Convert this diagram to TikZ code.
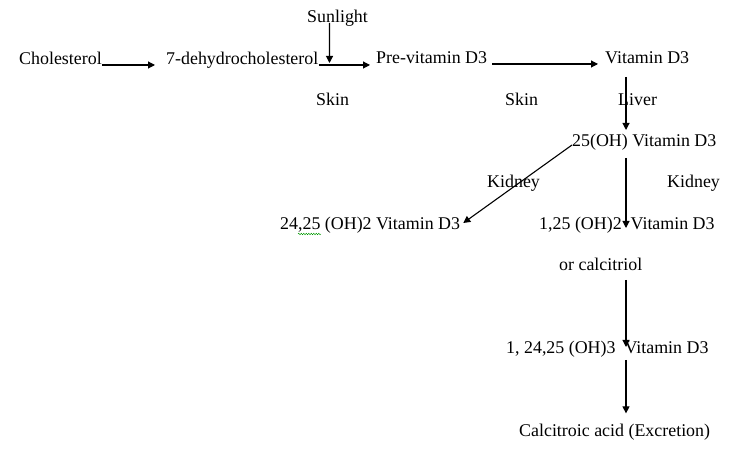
\documentclass[tikz,border=0pt]{standalone}
\usepackage{fontspec}
\setmainfont{Liberation Serif}
\usetikzlibrary{arrows.meta,decorations.pathmorphing}

\begin{document}
\begin{tikzpicture}[x=1bp,y=1bp,
        txt/.style={inner sep=0pt,anchor=base west,font=\fontsize{17.9bp}{21bp}\selectfont},
        arr/.style={line width=1.1bp,-{Triangle[length=7bp,width=7bp]}}]
        \useasboundingbox (0,0) rectangle (751,452);
        \coordinate (spine) at (626,0);
        % skin row
        \node[txt] (chol) at (19,387) {Cholesterol};
        \node[txt] (dehyd) at (166,387) {7-dehydrocholesterol};
        \node[txt] (sun) at (307,429) {Sunlight};
        \node[txt] (pre) at (376,388) {Pre-vitamin D3};
        \node[txt] (vitd) at (605,388) {Vitamin D3};
        \node[txt] (skinA) at (316,346) {Skin};
        \node[txt] (skinB) at (505,346) {Skin};
        \node[txt] (liver) at (618,346) {Liver};
        % liver and kidney
        \node[txt] (oh25) at (572,305) {25(OH) Vitamin D3};
        \node[txt] (kidA) at (487,264) {Kidney};
        \node[txt] (kidB) at (667,264) {Kidney};
        \node[txt] (oh24) at (280,222) {24,25 (OH)2 Vitamin D3};
        \node[txt] (oh125) at (539,222) {1,25 (OH)2\ \ Vitamin D3};
        \node[txt] (calci) at (559,181) {or calcitriol};
        \node[txt] (oh3) at (506,98) {1, 24,25 (OH)3\ \ Vitamin D3};
        \node[txt] (acid) at (519,15) {Calcitroic acid (Excretion)};
        % arrows
        \draw[arr] (chol.base east) -- ([xshift=-11bp]dehyd.base west);
        \draw[arr] ([xshift=-8bp]sun.base) -- ([shift={(11bp,2bp)}]dehyd.base east);
        \draw[arr] (dehyd.base east) -- ([xshift=-6bp]pre.base west |- dehyd.base);
        \draw[arr] ([xshift=5bp]pre.base east) -- ([xshift=-7bp]vitd.base west);
        \draw[arr] ([yshift=-13bp]vitd.base -| spine) -- ([yshift=17bp]oh25.base -| spine);
        \draw[arr] ([yshift=2bp]oh25.base west) -- ([shift={(3bp,7bp)}]oh24.base east);
        \draw[arr] ([yshift=-11bp]oh25.base -| spine) -- ([yshift=2bp]oh125.base -| spine);
        \draw[arr] ([yshift=-9bp]calci.base -| spine) -- ([yshift=7bp]oh3.base -| spine);
        \draw[arr] ([yshift=-6bp]oh3.base -| spine) -- ([yshift=11bp]acid.north -| spine);
        % spelling mark
        \draw[green!60!black,decorate,decoration={snake,amplitude=0.8bp,segment length=2.5bp}]
            ([shift={(18bp,-4bp)}]oh24.base west) -- ++(23,0);
\end{tikzpicture}
\end{document}
